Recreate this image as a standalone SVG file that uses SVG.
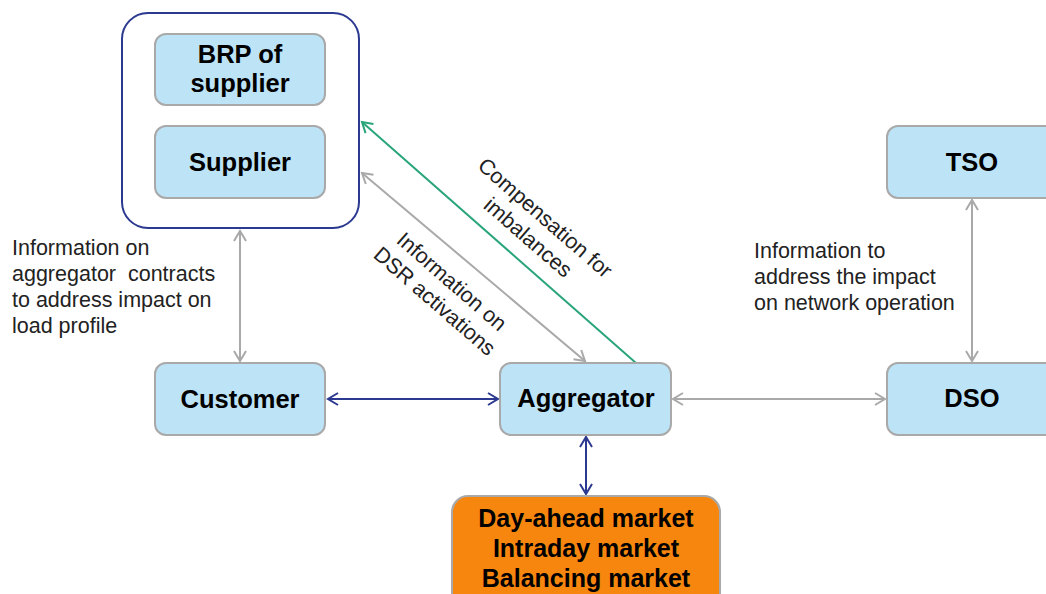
<svg xmlns="http://www.w3.org/2000/svg" width="1046" height="594" viewBox="0 0 1046 594">
<style>
.node{fill:#bde3f7;stroke:#a9a9a9;stroke-width:2}
.nt{font-family:"Liberation Sans",Arial,sans-serif;font-weight:bold;font-size:25.5px;fill:#000;text-anchor:middle}
.mt{font-family:"Liberation Sans",Arial,sans-serif;font-weight:bold;font-size:25px;fill:#000;text-anchor:middle}
.lbl{font-family:"Liberation Sans",Arial,sans-serif;font-size:21.5px;fill:#222;white-space:pre}
.gray{stroke:#a9a9a9;stroke-width:2;fill:none}
.blue{stroke:#2b3990;stroke-width:2;fill:none}
.green{stroke:#2aa57a;stroke-width:2;fill:none}
</style>
<defs>
<marker id="ag" markerUnits="userSpaceOnUse" markerWidth="14" markerHeight="16" refX="11" refY="7" orient="auto-start-reverse" viewBox="0 0 14 14"><path d="M1,1 L11,7 L1,13" fill="none" stroke="#a9a9a9" stroke-width="2"/></marker>
<marker id="ab" markerUnits="userSpaceOnUse" markerWidth="14" markerHeight="16" refX="11" refY="7" orient="auto-start-reverse" viewBox="0 0 14 14"><path d="M1,1 L11,7 L1,13" fill="none" stroke="#2b3990" stroke-width="2"/></marker>
<marker id="agr" markerUnits="userSpaceOnUse" markerWidth="14" markerHeight="16" refX="11" refY="7" orient="auto-start-reverse" viewBox="0 0 14 14"><path d="M1,1 L11,7 L1,13" fill="none" stroke="#2aa57a" stroke-width="2"/></marker>
</defs>
<rect width="1046" height="594" fill="#fff"/>
<g id="connectors">
<line class="gray" x1="240" y1="231" x2="240" y2="361" marker-start="url(#ag)" marker-end="url(#ag)"/>
<line class="blue" x1="328" y1="399" x2="498" y2="399" marker-start="url(#ab)" marker-end="url(#ab)"/>
<line class="gray" x1="673" y1="399" x2="885" y2="399" marker-start="url(#ag)" marker-end="url(#ag)"/>
<line class="gray" x1="972" y1="200" x2="972" y2="361" marker-start="url(#ag)" marker-end="url(#ag)"/>
<line class="blue" x1="586" y1="437" x2="586" y2="494" marker-start="url(#ab)" marker-end="url(#ab)"/>
<line class="green" x1="636" y1="363" x2="362" y2="122" marker-end="url(#agr)"/>
<line class="gray" x1="362" y1="173" x2="585" y2="361" marker-start="url(#ag)" marker-end="url(#ag)"/>
</g>
<g id="supplier-group">
<rect x="122" y="13" width="237" height="215" rx="26" fill="#fff" stroke="#2b3990" stroke-width="2"/>
</g>
<g id="brp">
<rect class="node" x="155" y="34" width="170" height="71" rx="11"/>
<text class="nt" x="240" y="63">BRP of</text>
<text class="nt" x="240" y="92">supplier</text>
</g>
<g id="supplier">
<rect class="node" x="155" y="126" width="170" height="72" rx="11"/>
<text class="nt" x="240" y="171">Supplier</text>
</g>
<g id="customer">
<rect class="node" x="155" y="363" width="170" height="72" rx="11"/>
<text class="nt" x="240" y="408">Customer</text>
</g>
<g id="aggregator">
<rect class="node" x="500" y="363" width="171" height="72" rx="11"/>
<text class="nt" x="586" y="407">Aggregator</text>
</g>
<g id="tso">
<rect class="node" x="887" y="126" width="171" height="72" rx="11"/>
<text class="nt" x="972" y="171">TSO</text>
</g>
<g id="dso">
<rect class="node" x="887" y="363" width="171" height="72" rx="11"/>
<text class="nt" x="972" y="407">DSO</text>
</g>
<g id="markets">
<rect x="452" y="496" width="268" height="120" rx="16" fill="#f7860f" stroke="#a9a9a9" stroke-width="2"/>
<text class="mt" x="586" y="527">Day-ahead market</text>
<text class="mt" x="586" y="557">Intraday market</text>
<text class="mt" x="586" y="587">Balancing market</text>
</g>
<g id="labels">
<text class="lbl" x="12" y="255">Information on</text>
<text class="lbl" x="12" y="281">aggregator  contracts</text>
<text class="lbl" x="12" y="307">to address impact on</text>
<text class="lbl" x="12" y="333">load profile</text>
<text class="lbl" x="754" y="258">Information to</text>
<text class="lbl" x="754" y="284">address the impact</text>
<text class="lbl" x="754" y="310">on network operation</text>
<g transform="translate(545,218) rotate(41)">
<text class="lbl" x="0" y="7" text-anchor="middle">Compensation for</text>
<text class="lbl" x="0" y="33" text-anchor="middle">imbalances</text>
</g>
<g transform="translate(447,287) rotate(41)">
<text class="lbl" x="0" y="0" text-anchor="middle">Information on</text>
<text class="lbl" x="0" y="26" text-anchor="middle">DSR activations</text>
</g>
</g>
</svg>
